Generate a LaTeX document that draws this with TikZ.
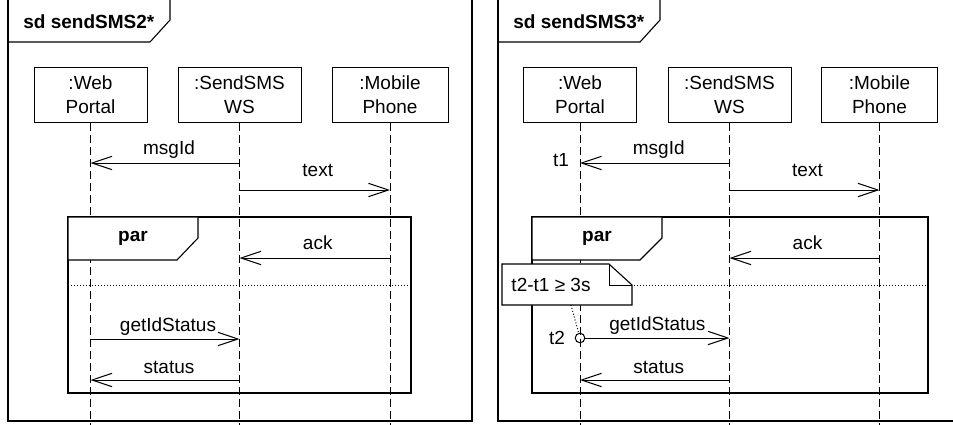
\documentclass[tikz,border=0pt]{standalone}
\usepackage{fontspec}
\setmainfont{Liberation Sans}
\usetikzlibrary{arrows.meta}
\begin{document}
\begin{tikzpicture}
	[x=0.5pt, y=-0.5pt, font=\fontsize{9.5}{12}\selectfont,
	head/.style={draw, line width=0.5pt, minimum width=56.5pt, minimum height=27.5pt, inner sep=0pt, align=center},
	life/.style={line width=0.5pt, dash pattern=on 4pt off 2pt},
	msg/.style={line width=0.5pt, -{Straight Barb[length=10pt, width=6.7pt]}},
	frm/.style={line width=0.55pt},
	sep/.style={line width=0.5pt, densely dotted},
	lbl/.style={inner sep=0pt},
	ttl/.style={inner sep=0pt, font=\fontsize{9.5}{12}\selectfont\bfseries}]
	\useasboundingbox (0,0) rectangle (953,424);
	\clip (0,0) rectangle (953,424);

	% sd sendSMS2*
	\draw[frm] (8,-5) -- (8,421) -- (472,421) -- (472,-5);
	\draw[frm] (8,42) -- (150,42) -- (170,20) -- (170,-5);
	\node[ttl, anchor=west] (sdA) at (23,22) {sd sendSMS2*};
	\node[head] (wpA) at (90.5,94.5) {:Web\\Portal};
	\node[head, minimum width=61.5pt] (wsA) at (239.5,94.5) {:SendSMS\\WS};
	\node[head, minimum width=58pt] (mpA) at (390,94.5) {:Mobile\\Phone};
	\draw[life] (wpA.south) -- (wpA.south |- 0,430);
	\draw[life] (wsA.south) -- (wsA.south |- 0,430);
	\draw[life] (mpA.south) -- (mpA.south |- 0,430);
	\draw[frm] (68,217) rectangle (411,393);
	\draw[frm, fill=white] (68,217) -- (198,217) -- (198,238) -- (177,260) -- (68,260) -- cycle;
	\node[ttl] (parA) at (133,238) {par};
	\draw[sep] (68,285) -- (411,285);
	\draw[msg] (wsA |- 0,163) -- node[lbl, yshift=6.5pt, xshift=2pt] {msgId} (wpA |- 0,163);
	\draw[msg] (wsA |- 0,190) -- node[lbl, yshift=10pt, xshift=1.5pt] {text} (mpA |- 0,190);
	\draw[msg] (mpA |- 0,258) -- node[lbl, yshift=7.5pt, xshift=1.5pt] {ack} (wsA |- 0,258);
	\draw[msg] (wpA |- 0,339) -- node[lbl, yshift=6pt, xshift=1.5pt] {getIdStatus} (wsA |- 0,339);
	\draw[msg] (wsA |- 0,380) -- node[lbl, yshift=6.5pt, xshift=2pt] {status} (wpA |- 0,380);

	% sd sendSMS3*
	\draw[frm] (498,-5) -- (498,421) -- (960,421);
	\draw[frm] (498,42) -- (640,42) -- (660,20) -- (660,-5);
	\node[ttl, anchor=west] (sdB) at (513,22) {sd sendSMS3*};
	\node[head] (wpB) at (580,94.5) {:Web\\Portal};
	\node[head, minimum width=61.5pt] (wsB) at (729.5,94.5) {:SendSMS\\WS};
	\node[head, minimum width=58pt] (mpB) at (879.5,94.5) {:Mobile\\Phone};
	\draw[life] (wpB.south) -- (wpB.south |- 0,430);
	\draw[life] (wsB.south) -- (wsB.south |- 0,430);
	\draw[life] (mpB.south) -- (mpB.south |- 0,430);
	\draw[frm] (532,217) rectangle (928,393);
	\draw[frm, fill=white] (532,217) -- (662,217) -- (662,238) -- (640,260) -- (532,260) -- cycle;
	\node[ttl] (parB) at (597,238) {par};
	\draw[sep] (532,285) -- (928,285);
	\node[lbl] (tone) at (561,160) {t1};
	\node[lbl] (ttwo) at (557,338) {t2};
	\node[draw, circle, line width=0.5pt, minimum size=4.8pt, inner sep=0pt] (tmark) at (wpB |- 0,338) {};
	\draw[msg] (wsB |- 0,163) -- node[lbl, yshift=6.5pt, xshift=2pt] {msgId} (wpB |- 0,163);
	\draw[msg] (wsB |- 0,190) -- node[lbl, yshift=10pt, xshift=1.5pt] {text} (mpB |- 0,190);
	\draw[msg] (mpB |- 0,258) -- node[lbl, yshift=7.5pt, xshift=1.5pt] {ack} (wsB |- 0,258);
	\draw[msg] (tmark.east) -- node[lbl, yshift=6pt] {getIdStatus} (wsB |- tmark);
	\draw[msg] (wsB |- 0,380) -- node[lbl, yshift=6.5pt, xshift=2pt] {status} (wpB |- 0,380);
	\draw[frm, fill=white] (502,264) -- (609,264) -- (632,285) -- (632,305) -- (502,305) -- cycle;
	\draw[line width=0.5pt] (609,264) -- (609,285) -- (632,285);
	\node[lbl] (note) at (551,285) {t2-t1 ≥ 3s};
	\coordinate (notefoot) at (571,305);
	\draw[sep] (notefoot) -- (tmark);
\end{tikzpicture}
\end{document}
